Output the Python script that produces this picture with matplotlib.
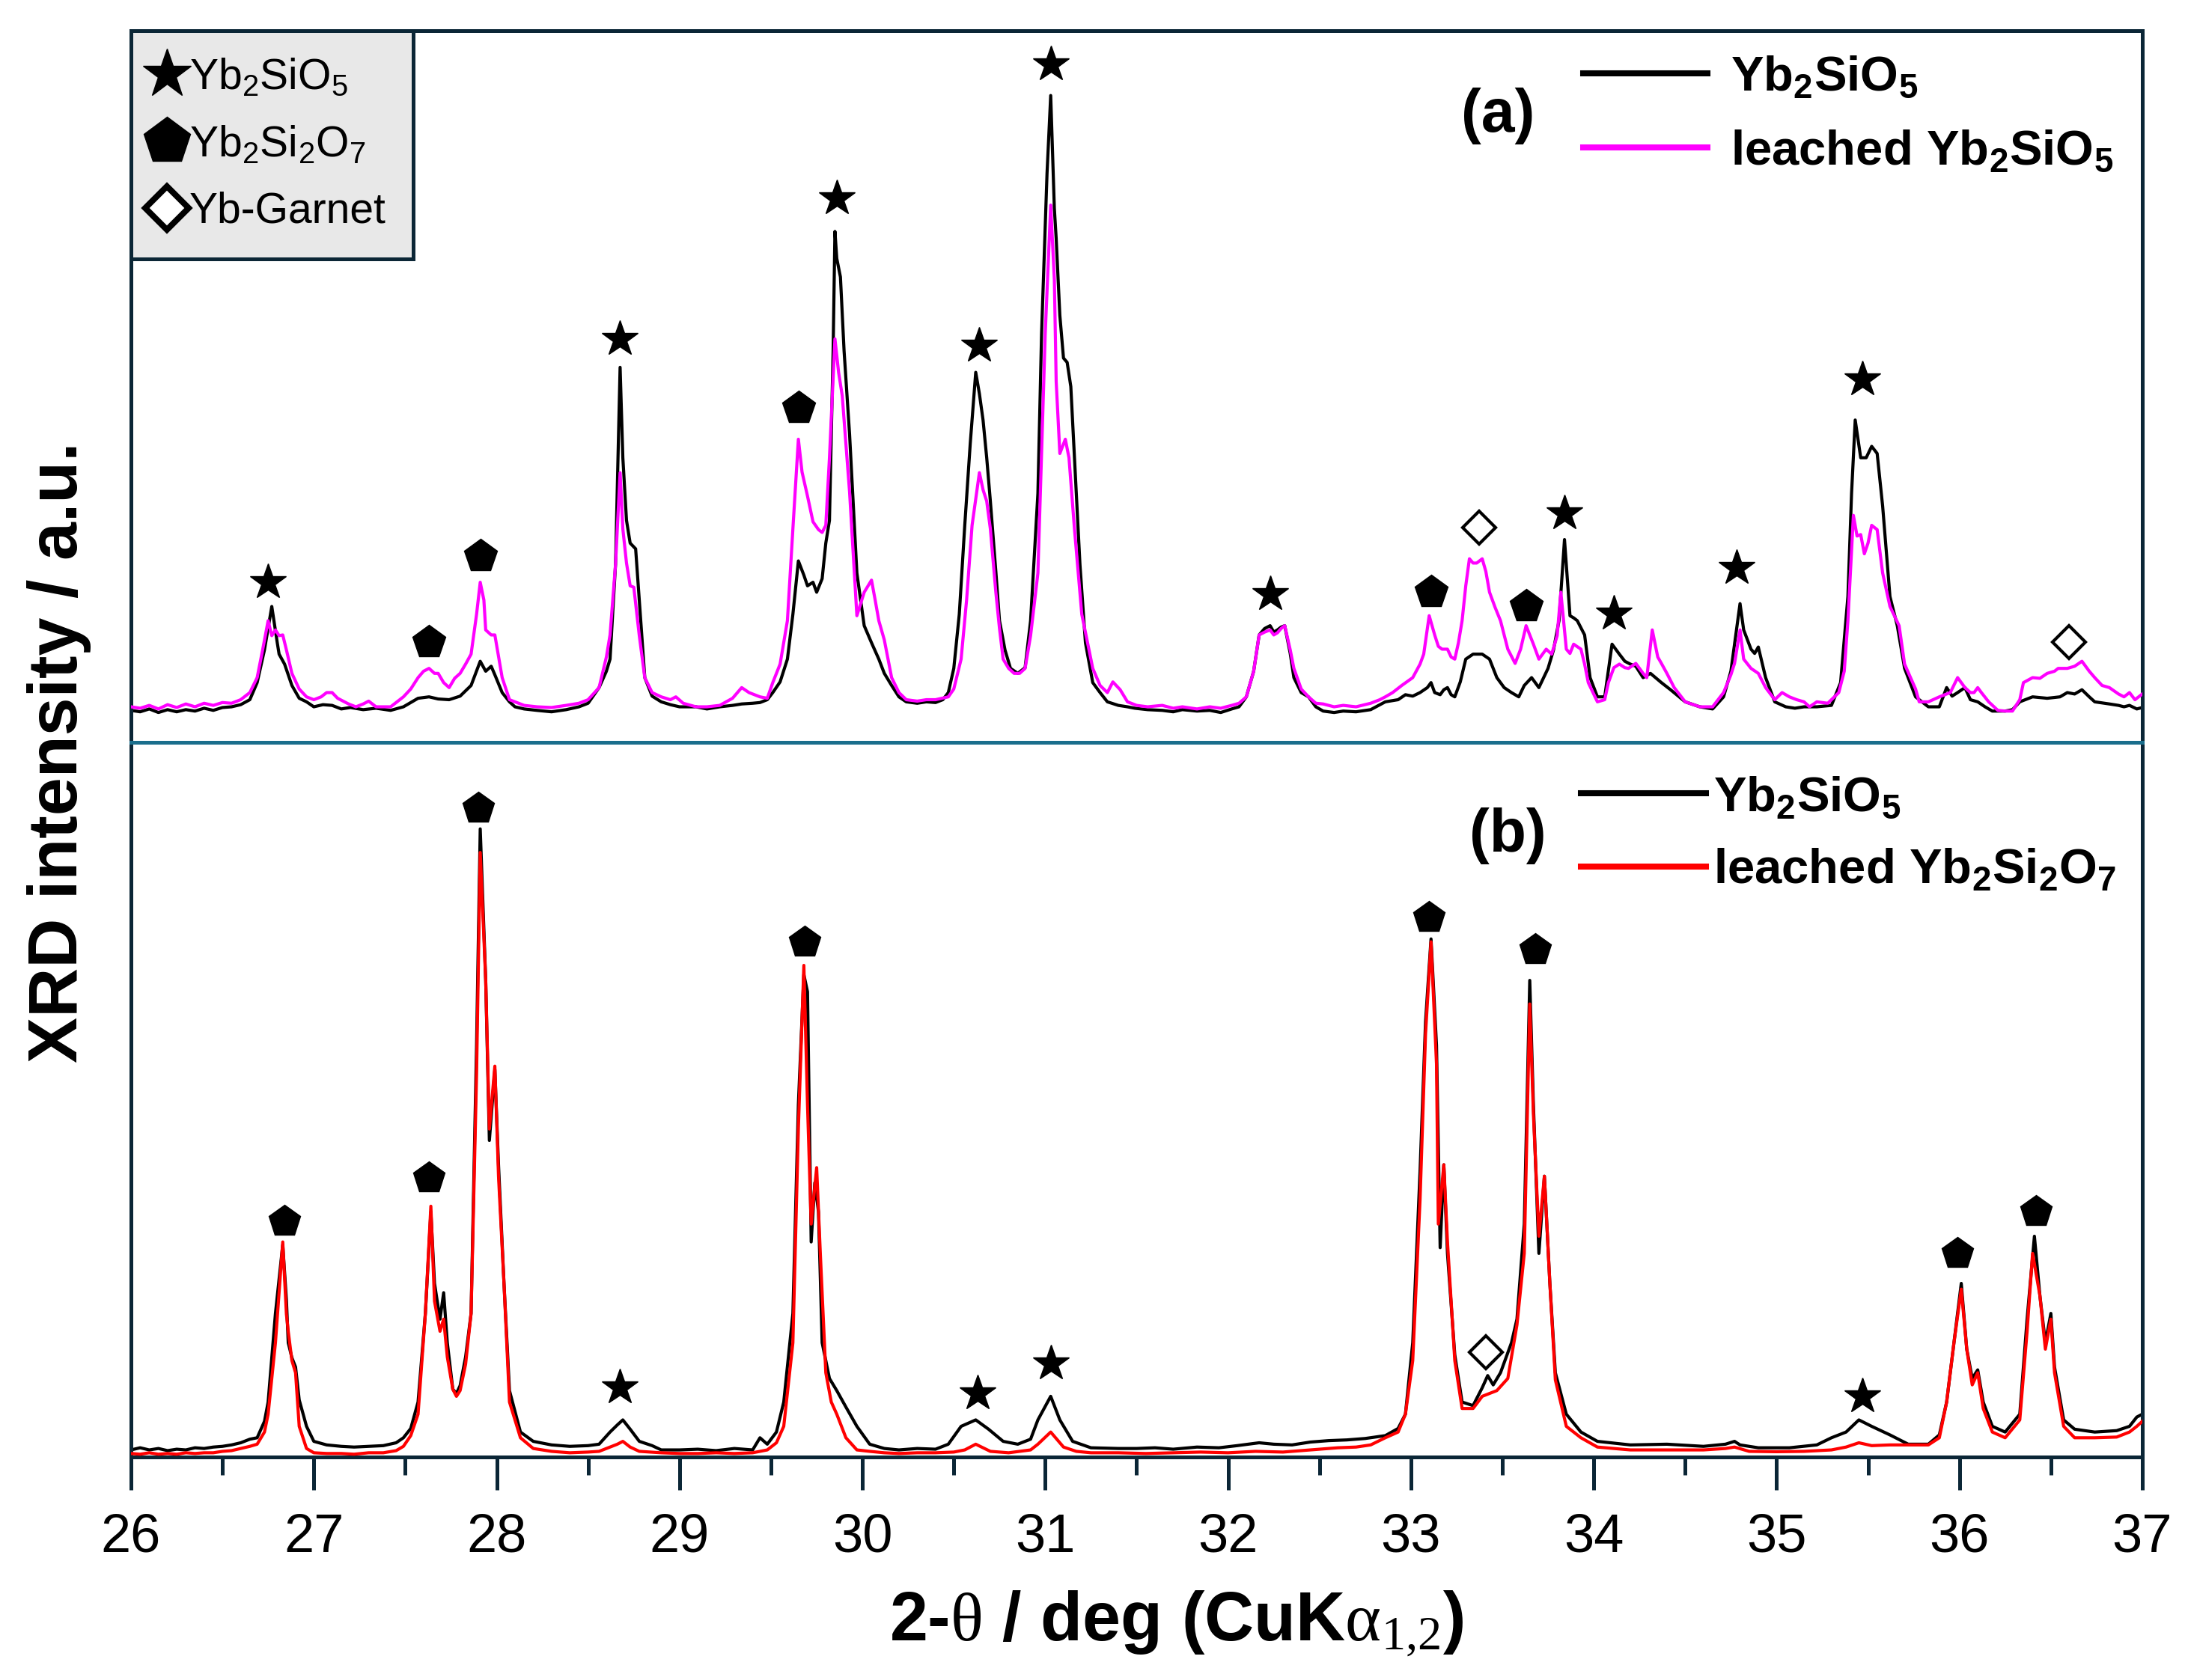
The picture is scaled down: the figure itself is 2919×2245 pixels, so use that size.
import matplotlib
matplotlib.use('Agg')
import matplotlib.pyplot as plt
from matplotlib.lines import Line2D
from matplotlib.ticker import MultipleLocator, FixedLocator

# ---------------- data (2-theta in deg, intensity in a.u.) ----------------
# Panel (a): pristine Yb2SiO5 (black)
A_PRISTINE = [(26.00,4.5),(26.05,4.3),(26.10,4.7),(26.15,4.2),(26.20,4.6),(26.25,4.3),(26.30,4.6),(26.35,4.4),(26.40,4.8),(26.45,4.5),(26.50,4.9),(26.55,5.0),(26.60,5.3),(26.65,6.0),(26.69,8.4),(26.73,13.0),(26.77,19.1),(26.80,14.0),(26.81,12.4),(26.84,11.0),(26.88,8.0),(26.92,6.2),(26.96,5.7),(27.00,5.0),(27.05,5.3),(27.10,5.2),(27.15,4.7),(27.20,4.9),(27.27,4.6),(27.34,4.8),(27.42,4.5),(27.49,5.0),(27.53,5.6),(27.57,6.2),(27.63,6.4),(27.68,6.1),(27.74,6.0),(27.80,6.5),(27.86,8.0),(27.91,11.4),(27.94,10.0),(27.97,10.7),(27.99,9.5),(28.03,7.0),(28.07,5.7),(28.10,5.0),(28.15,4.7),(28.22,4.5),(28.30,4.3),(28.38,4.6),(28.45,5.0),(28.50,5.5),(28.56,7.7),(28.60,10.0),(28.62,11.7),(28.65,25.0),(28.675,52.7),(28.69,40.0),(28.71,31.2),(28.73,28.0),(28.76,27.2),(28.78,20.0),(28.81,9.1),(28.85,6.5),(28.90,5.7),(28.95,5.3),(29.00,5.0),(29.09,5.0),(29.15,4.7),(29.22,5.0),(29.29,5.2),(29.34,5.4),(29.40,5.5),(29.44,5.6),(29.48,6.0),(29.51,7.0),(29.55,8.5),(29.59,11.7),(29.62,18.0),(29.65,25.5),(29.68,23.5),(29.70,22.0),(29.73,22.5),(29.75,21.1),(29.78,23.0),(29.80,28.0),(29.82,31.2),(29.84,55.0),(29.85,71.8),(29.86,68.0),(29.88,65.4),(29.90,55.0),(29.93,43.3),(29.97,23.8),(30.01,16.4),(30.05,14.0),(30.09,11.7),(30.12,9.7),(30.16,8.0),(30.20,6.4),(30.24,5.7),(30.30,5.5),(30.35,5.7),(30.40,5.6),(30.44,6.0),(30.47,7.0),(30.50,10.4),(30.53,18.0),(30.56,30.5),(30.59,42.0),(30.62,52.0),(30.64,49.0),(30.66,45.3),(30.68,40.0),(30.70,33.9),(30.73,24.0),(30.75,17.1),(30.78,13.0),(30.81,10.4),(30.85,9.7),(30.89,10.5),(30.92,17.1),(30.96,35.0),(30.98,57.4),(31.01,80.0),(31.03,90.9),(31.05,75.0),(31.06,70.8),(31.08,60.0),(31.10,54.0),(31.12,53.4),(31.14,50.0),(31.16,40.0),(31.19,25.0),(31.22,14.0),(31.26,8.4),(31.30,7.0),(31.34,5.7),(31.40,5.2),(31.45,5.0),(31.49,4.8),(31.56,4.6),(31.64,4.5),(31.70,4.3),(31.75,4.6),(31.83,4.4),(31.90,4.5),(31.96,4.2),(32.02,4.7),(32.06,5.0),(32.10,6.4),(32.14,10.0),(32.17,15.1),(32.20,16.0),(32.23,16.4),(32.25,15.5),(32.27,15.8),(32.29,16.2),(32.31,16.4),(32.34,12.5),(32.36,9.1),(32.40,7.0),(32.44,6.4),(32.48,5.0),(32.52,4.4),(32.58,4.2),(32.63,4.4),(32.70,4.3),(32.78,4.6),(32.86,5.7),(32.93,6.0),(32.97,6.7),(33.01,6.5),(33.05,7.0),(33.09,7.7),(33.11,8.4),(33.13,7.0),(33.16,6.7),(33.18,7.4),(33.20,7.7),(33.22,6.7),(33.24,6.4),(33.27,8.5),(33.30,11.7),(33.34,12.4),(33.39,12.4),(33.43,11.7),(33.47,9.1),(33.51,7.7),(33.55,7.0),(33.59,6.4),(33.62,8.0),(33.66,9.1),(33.70,7.7),(33.75,10.4),(33.78,13.0),(33.81,17.1),(33.84,28.5),(33.87,17.8),(33.89,17.5),(33.91,17.1),(33.95,15.1),(33.98,9.1),(34.02,6.4),(34.06,6.4),(34.10,13.8),(34.14,12.4),(34.17,11.4),(34.20,11.0),(34.23,10.7),(34.27,9.1),(34.31,9.7),(34.37,8.4),(34.42,7.4),(34.50,5.7),(34.58,5.0),(34.65,4.7),(34.71,6.4),(34.75,10.0),(34.77,13.8),(34.80,19.5),(34.82,15.8),(34.86,13.1),(34.88,12.5),(34.90,13.4),(34.94,9.1),(34.99,5.7),(35.05,5.0),(35.10,4.8),(35.15,5.0),(35.22,5.0),(35.30,5.2),(35.35,8.4),(35.39,20.5),(35.41,35.0),(35.43,45.3),(35.46,40.0),(35.49,40.0),(35.52,41.6),(35.55,40.6),(35.58,33.2),(35.62,20.5),(35.66,16.4),(35.70,10.4),(35.76,6.4),(35.83,5.0),(35.89,5.0),(35.93,7.7),(35.96,6.5),(35.99,7.0),(36.03,7.7),(36.06,6.0),(36.10,5.7),(36.14,5.0),(36.18,4.4),(36.25,4.4),(36.29,4.6),(36.33,5.7),(36.40,6.4),(36.48,6.2),(36.55,6.4),(36.59,7.0),(36.63,6.8),(36.67,7.4),(36.71,6.4),(36.74,5.7),(36.82,5.4),(36.87,5.2),(36.90,5.0),(36.93,5.2),(36.97,4.7),(37.00,4.9)]

# Panel (a): leached Yb2SiO5 (magenta)
A_LEACHED = [(26.00,5.0),(26.05,4.8),(26.10,5.2),(26.15,4.7),(26.20,5.3),(26.25,4.9),(26.30,5.4),(26.35,5.0),(26.40,5.5),(26.45,5.2),(26.50,5.6),(26.55,5.5),(26.60,6.0),(26.65,7.0),(26.69,9.1),(26.72,13.0),(26.75,17.1),(26.77,15.0),(26.79,15.8),(26.81,15.0),(26.83,15.1),(26.85,13.0),(26.88,9.7),(26.92,7.5),(26.96,6.4),(27.00,6.0),(27.04,6.4),(27.07,7.0),(27.10,7.0),(27.13,6.2),(27.19,5.4),(27.23,5.0),(27.27,5.4),(27.30,5.8),(27.34,5.0),(27.42,5.0),(27.49,6.4),(27.53,7.5),(27.57,9.1),(27.60,10.0),(27.63,10.4),(27.66,9.7),(27.68,9.7),(27.71,8.4),(27.74,7.7),(27.77,9.0),(27.80,9.7),(27.83,11.0),(27.86,12.4),(27.89,18.0),(27.91,22.5),(27.93,20.0),(27.94,15.8),(27.97,15.1),(27.99,15.1),(28.03,9.1),(28.07,6.0),(28.10,5.7),(28.15,5.2),(28.22,5.0),(28.30,4.9),(28.38,5.2),(28.45,5.5),(28.50,6.0),(28.56,7.7),(28.60,12.0),(28.62,15.1),(28.65,25.0),(28.675,37.9),(28.69,30.0),(28.71,25.2),(28.73,22.0),(28.75,21.8),(28.78,15.0),(28.81,9.1),(28.85,7.0),(28.90,6.4),(28.95,6.0),(28.98,6.4),(29.02,5.5),(29.09,5.0),(29.15,5.0),(29.22,5.2),(29.29,6.2),(29.34,7.7),(29.38,7.0),(29.44,6.4),(29.48,6.2),(29.51,8.4),(29.55,11.0),(29.59,17.1),(29.62,30.0),(29.65,42.6),(29.67,38.0),(29.70,34.6),(29.73,31.0),(29.76,29.9),(29.78,29.5),(29.80,30.5),(29.82,40.0),(29.85,56.7),(29.87,52.0),(29.89,48.7),(29.91,42.0),(29.93,35.2),(29.97,17.8),(30.01,21.1),(30.05,22.8),(30.07,20.0),(30.09,17.1),(30.12,14.4),(30.16,9.1),(30.20,7.0),(30.24,6.0),(30.30,5.8),(30.35,6.0),(30.40,6.0),(30.47,6.4),(30.50,7.5),(30.54,11.7),(30.57,20.0),(30.60,30.5),(30.64,37.9),(30.66,35.5),(30.68,33.9),(30.70,30.0),(30.73,21.1),(30.75,16.0),(30.77,11.7),(30.80,10.4),(30.83,9.7),(30.86,9.7),(30.89,10.4),(30.92,15.0),(30.96,23.8),(31.00,57.4),(31.03,75.5),(31.05,65.0),(31.06,50.7),(31.08,40.6),(31.11,42.6),(31.13,40.0),(31.16,30.0),(31.20,18.0),(31.26,10.4),(31.30,8.0),(31.34,7.0),(31.37,8.5),(31.41,7.4),(31.45,5.7),(31.50,5.2),(31.56,5.0),(31.64,5.2),(31.70,4.8),(31.75,5.0),(31.83,4.7),(31.90,5.0),(31.96,4.8),(32.02,5.2),(32.06,5.5),(32.10,6.4),(32.14,10.0),(32.17,15.1),(32.20,15.5),(32.23,15.8),(32.25,15.1),(32.27,15.4),(32.29,16.0),(32.31,16.4),(32.34,13.0),(32.36,10.4),(32.40,7.5),(32.44,6.4),(32.48,5.5),(32.52,5.4),(32.58,5.0),(32.63,5.2),(32.70,5.0),(32.78,5.5),(32.83,6.0),(32.86,6.4),(32.90,7.0),(32.95,8.0),(33.01,9.1),(33.05,11.0),(33.07,12.4),(33.10,17.8),(33.13,15.1),(33.15,13.5),(33.17,13.1),(33.20,13.1),(33.22,12.0),(33.24,11.7),(33.26,14.0),(33.28,17.1),(33.30,22.0),(33.32,25.8),(33.34,25.2),(33.36,25.2),(33.39,25.8),(33.41,24.0),(33.43,21.1),(33.46,19.0),(33.49,17.1),(33.53,13.1),(33.57,11.1),(33.60,13.1),(33.63,16.4),(33.67,13.8),(33.70,11.7),(33.74,13.1),(33.77,12.4),(33.80,15.0),(33.82,21.1),(33.85,13.1),(33.87,12.5),(33.89,13.8),(33.93,13.1),(33.95,11.0),(33.97,8.4),(34.02,5.7),(34.06,6.0),(34.08,8.4),(34.11,10.5),(34.14,11.0),(34.17,10.5),(34.19,10.4),(34.23,11.1),(34.27,9.7),(34.29,9.1),(34.32,15.8),(34.35,12.0),(34.37,11.1),(34.40,9.7),(34.44,7.7),(34.50,5.7),(34.58,5.0),(34.65,5.0),(34.71,7.0),(34.75,9.5),(34.77,11.1),(34.80,15.8),(34.82,11.7),(34.86,10.4),(34.90,9.7),(34.94,7.7),(34.99,6.0),(35.03,7.0),(35.07,6.4),(35.11,6.0),(35.15,5.7),(35.18,5.0),(35.22,5.7),(35.28,5.5),(35.34,7.0),(35.37,10.0),(35.39,17.1),(35.42,31.9),(35.44,29.0),(35.46,29.2),(35.48,26.5),(35.50,28.0),(35.52,30.5),(35.55,29.9),(35.58,23.8),(35.62,19.1),(35.67,16.4),(35.70,11.0),(35.76,7.5),(35.78,5.7),(35.83,5.7),(35.89,6.4),(35.95,7.0),(35.99,9.1),(36.03,7.7),(36.06,7.0),(36.08,7.0),(36.10,7.7),(36.12,7.0),(36.16,5.7),(36.21,4.5),(36.25,4.4),(36.29,4.4),(36.33,6.0),(36.35,8.4),(36.40,9.1),(36.44,9.0),(36.48,9.7),(36.52,10.0),(36.54,10.4),(36.59,10.4),(36.63,10.7),(36.67,11.4),(36.71,10.0),(36.74,9.1),(36.78,8.0),(36.82,7.7),(36.87,6.8),(36.90,6.4),(36.93,7.0),(36.96,6.0),(37.00,6.8)]

# Panel (b): Yb2SiO5 curve (black)
B_PRISTINE = [(26.00,1.0),(26.05,1.3),(26.10,1.0),(26.15,1.2),(26.20,0.9),(26.25,1.1),(26.30,1.0),(26.35,1.3),(26.40,1.2),(26.45,1.4),(26.50,1.5),(26.55,1.7),(26.60,2.0),(26.65,2.5),(26.69,2.7),(26.73,5.0),(26.75,7.7),(26.79,20.1),(26.83,29.7),(26.85,22.0),(26.86,16.0),(26.88,13.9),(26.90,12.6),(26.92,8.0),(26.96,4.3),(27.00,2.2),(27.07,1.7),(27.15,1.5),(27.22,1.4),(27.30,1.5),(27.38,1.6),(27.45,2.0),(27.49,2.7),(27.53,4.0),(27.57,7.7),(27.61,20.1),(27.64,34.3),(27.66,24.3),(27.69,19.3),(27.71,23.0),(27.73,16.0),(27.76,9.5),(27.78,8.9),(27.80,10.0),(27.83,14.0),(27.86,20.1),(27.89,57.6),(27.91,87.9),(27.94,66.7),(27.96,44.3),(27.99,54.2),(28.01,40.9),(28.04,24.3),(28.07,9.3),(28.13,3.5),(28.20,2.2),(28.30,1.7),(28.40,1.5),(28.50,1.6),(28.56,1.8),(28.62,3.5),(28.66,4.5),(28.69,5.2),(28.73,3.9),(28.78,2.2),(28.85,1.6),(28.90,1.0),(29.00,1.0),(29.10,1.1),(29.20,0.9),(29.30,1.2),(29.40,1.0),(29.44,2.7),(29.48,1.8),(29.53,3.5),(29.57,7.7),(29.62,20.1),(29.65,49.3),(29.68,67.5),(29.70,65.1),(29.72,30.1),(29.74,38.4),(29.76,34.3),(29.78,16.0),(29.82,11.0),(29.86,9.3),(29.91,7.0),(29.97,4.3),(30.04,1.8),(30.12,1.2),(30.20,1.0),(30.30,1.2),(30.40,1.1),(30.47,1.8),(30.54,4.3),(30.62,5.2),(30.69,3.9),(30.77,2.2),(30.85,1.8),(30.92,2.5),(30.96,5.2),(31.03,8.5),(31.08,5.2),(31.15,2.2),(31.25,1.3),(31.40,1.2),(31.50,1.2),(31.60,1.3),(31.70,1.1),(31.83,1.4),(31.95,1.3),(32.05,1.6),(32.17,2.0),(32.25,1.8),(32.35,1.7),(32.45,2.1),(32.55,2.3),(32.65,2.4),(32.75,2.6),(32.86,3.0),(32.93,4.0),(32.97,6.0),(33.01,16.0),(33.05,40.0),(33.08,60.9),(33.11,72.5),(33.14,57.6),(33.16,29.3),(33.18,40.9),(33.20,28.5),(33.24,14.3),(33.28,7.7),(33.34,7.2),(33.39,9.7),(33.42,11.4),(33.45,10.1),(33.49,11.8),(33.55,16.0),(33.58,19.3),(33.62,32.6),(33.65,66.7),(33.67,49.3),(33.70,28.5),(33.73,39.3),(33.76,24.3),(33.79,11.8),(33.85,6.0),(33.93,3.5),(34.02,2.2),(34.20,1.7),(34.40,1.8),(34.60,1.5),(34.72,1.8),(34.77,2.2),(34.80,1.7),(34.90,1.3),(35.07,1.3),(35.22,1.7),(35.30,2.7),(35.38,3.5),(35.45,5.2),(35.52,4.3),(35.62,3.1),(35.72,1.8),(35.83,1.8),(35.89,3.1),(35.93,7.7),(35.97,16.0),(36.01,24.3),(36.04,15.1),(36.07,11.0),(36.10,12.2),(36.13,7.7),(36.18,4.3),(36.25,3.5),(36.33,6.0),(36.37,19.3),(36.41,30.9),(36.44,22.6),(36.47,16.0),(36.50,20.1),(36.52,12.6),(36.57,5.2),(36.63,3.9),(36.74,3.5),(36.86,3.7),(36.93,4.3),(36.97,5.6),(37.00,6.0)]

# Panel (b): leached Yb2Si2O7 (red)
B_LEACHED = [(26.00,0.5),(26.05,0.4),(26.10,0.6),(26.15,0.4),(26.20,0.5),(26.25,0.4),(26.30,0.6),(26.35,0.5),(26.40,0.6),(26.45,0.6),(26.50,0.8),(26.55,0.9),(26.60,1.2),(26.65,1.5),(26.69,1.8),(26.73,3.5),(26.75,6.0),(26.79,16.0),(26.83,30.1),(26.85,20.0),(26.86,17.6),(26.88,13.5),(26.90,11.8),(26.92,4.3),(26.96,1.2),(27.00,0.6),(27.07,0.5),(27.15,0.5),(27.22,0.4),(27.30,0.6),(27.38,0.6),(27.45,0.9),(27.49,1.5),(27.53,3.0),(27.57,6.0),(27.61,20.1),(27.64,35.1),(27.66,21.8),(27.69,17.6),(27.71,19.3),(27.73,14.0),(27.76,9.5),(27.78,8.5),(27.80,9.3),(27.83,13.0),(27.86,20.1),(27.89,53.6),(27.91,84.6),(27.94,66.7),(27.96,45.9),(27.99,54.7),(28.01,39.3),(28.04,24.3),(28.07,7.7),(28.13,2.7),(28.20,1.2),(28.30,0.8),(28.40,0.6),(28.50,0.7),(28.56,0.8),(28.62,1.4),(28.66,1.8),(28.69,2.2),(28.73,1.4),(28.78,0.8),(28.90,0.6),(29.00,0.5),(29.10,0.5),(29.20,0.6),(29.30,0.5),(29.40,0.6),(29.44,0.8),(29.48,1.0),(29.53,2.0),(29.57,4.3),(29.62,16.0),(29.65,46.0),(29.68,68.8),(29.70,49.3),(29.72,32.6),(29.75,40.5),(29.77,28.5),(29.80,11.8),(29.83,7.7),(29.86,6.0),(29.91,2.7),(29.97,1.0),(30.04,0.8),(30.12,0.6),(30.20,0.5),(30.30,0.6),(30.40,0.6),(30.50,0.7),(30.56,1.0),(30.62,1.8),(30.70,0.8),(30.80,0.6),(30.92,1.0),(30.96,1.8),(31.03,3.5),(31.10,1.4),(31.17,0.8),(31.25,0.6),(31.40,0.6),(31.55,0.5),(31.70,0.6),(31.85,0.7),(32.00,0.6),(32.15,0.8),(32.30,0.7),(32.45,1.0),(32.60,1.3),(32.70,1.4),(32.78,1.7),(32.86,2.7),(32.93,3.5),(32.97,6.0),(33.01,13.5),(33.05,36.0),(33.08,59.2),(33.11,72.1),(33.14,55.0),(33.15,32.6),(33.18,40.9),(33.20,30.1),(33.24,13.5),(33.28,6.8),(33.34,6.8),(33.39,8.5),(33.43,8.9),(33.47,9.3),(33.53,11.0),(33.58,18.5),(33.62,28.5),(33.65,63.4),(33.67,48.0),(33.70,30.9),(33.73,39.3),(33.76,24.3),(33.79,10.8),(33.85,4.3),(33.93,2.7),(34.02,1.4),(34.20,1.0),(34.40,1.0),(34.60,1.0),(34.72,1.2),(34.77,1.4),(34.85,0.8),(35.00,0.75),(35.15,0.8),(35.30,1.0),(35.38,1.4),(35.45,2.0),(35.52,1.6),(35.62,1.7),(35.72,1.7),(35.83,1.7),(35.89,2.7),(35.93,7.7),(35.97,16.0),(36.01,23.5),(36.04,15.1),(36.07,10.1),(36.10,11.8),(36.13,6.8),(36.18,3.5),(36.25,2.7),(36.33,5.2),(36.37,17.6),(36.40,28.5),(36.44,22.6),(36.47,15.1),(36.50,19.3),(36.52,11.8),(36.57,4.3),(36.63,2.7),(36.74,2.7),(36.86,2.8),(36.93,3.5),(36.97,4.3),(37.00,5.0)]

# Phase markers (2-theta, height)
A_STARS = [(26.75,22.5),(28.675,56.7),(29.86,76.5),(30.64,55.7),(31.03,95.3),(32.23,20.8),(33.84,32.2),(34.11,18.1),(34.78,24.5),(35.47,51.0)]
A_PENTAGONS = [(27.63,14.1),(27.91,26.2),(29.65,47.0),(33.11,21.1),(33.63,19.1)]
A_DIAMONDS = [(33.375,30.2),(36.60,14.1)]
B_PENTAGONS = [(26.84,33.0),(27.63,39.1),(27.90,90.8),(29.685,72.1),(33.10,75.5),(33.68,71.0),(35.99,28.5),(36.42,34.4)]
B_STARS = [(28.675,9.7),(30.63,8.9),(31.03,13.1),(35.47,8.5)]
B_DIAMONDS = [(33.41,14.7)]

X_TICKS = [26, 27, 28, 29, 30, 31, 32, 33, 34, 35, 36, 37]
LABEL_A = ['Yb$_2$SiO$_5$', 'leached Yb$_2$SiO$_5$']
LABEL_B = ['Yb$_2$SiO$_5$', 'leached Yb$_2$Si$_2$O$_7$']
PHASES = ['Yb$_2$SiO$_5$', 'Yb$_2$Si$_2$O$_7$', 'Yb-Garnet']

# ---------------- style ----------------
plt.rcParams['font.family'] = ['Liberation Sans', 'DejaVu Sans']
plt.rcParams['mathtext.fontset'] = 'custom'
plt.rcParams['mathtext.rm'] = 'Liberation Serif'
plt.rcParams['mathtext.it'] = 'Liberation Serif:italic'
plt.rcParams['mathtext.bf'] = 'Liberation Serif:bold'
plt.rcParams['mathtext.default'] = 'regular'

SPINE = '#0b2636'
DIVIDER = '#1a6e8c'
MAGENTA = '#ff00ff'
RED = '#ff0000'
CURVE_LW = 3.0

fig = plt.figure(figsize=(29.19, 22.45), dpi=100)
axB = fig.add_axes([0.05995, 0.1327, 0.9205, 0.4254])
axA = fig.add_axes([0.05995, 0.5581, 0.9205, 0.4236])


def unzip(pairs):
    return [p[0] for p in pairs], [p[1] for p in pairs]


# ---- panel (a)
x, y = unzip(A_PRISTINE)
axA.plot(x, y, color='black', lw=CURVE_LW, zorder=2)
x, y = unzip(A_LEACHED)
axA.plot(x, y, color=MAGENTA, lw=CURVE_LW, zorder=3)
x, y = unzip(A_STARS)
axA.plot(x, y, ls='none', marker='*', ms=36, color='black', zorder=5)
x, y = unzip(A_PENTAGONS)
axA.plot(x, y, ls='none', marker='p', ms=33, color='black', zorder=5)
x, y = unzip(A_DIAMONDS)
axA.plot(x, y, ls='none', marker='D', ms=22, mfc='white', mec='black', mew=3, zorder=5)

# ---- panel (b)
x, y = unzip(B_PRISTINE)
axB.plot(x, y, color='black', lw=CURVE_LW, zorder=2)
x, y = unzip(B_LEACHED)
axB.plot(x, y, color=RED, lw=CURVE_LW, zorder=3)
x, y = unzip(B_PENTAGONS)
axB.plot(x, y, ls='none', marker='p', ms=32, color='black', zorder=5)
x, y = unzip(B_STARS)
axB.plot(x, y, ls='none', marker='*', ms=36, color='black', zorder=5)
x, y = unzip(B_DIAMONDS)
axB.plot(x, y, ls='none', marker='D', ms=22, mfc='white', mec='black', mew=3, zorder=5)

for ax in (axA, axB):
    ax.set_xlim(26, 37)
    ax.set_ylim(0, 100)
    ax.set_yticks([])
    for s in ax.spines.values():
        s.set_color(SPINE)
        s.set_linewidth(3.6)

axA.set_xticks([])
axA.spines['bottom'].set_color(DIVIDER)
axA.spines['bottom'].set_zorder(10)
axB.spines['top'].set_visible(False)

axB.xaxis.set_major_locator(FixedLocator(X_TICKS))
axB.xaxis.set_minor_locator(MultipleLocator(0.5))
axB.set_xticklabels([str(t) for t in X_TICKS])
axB.tick_params(axis='x', which='major', direction='out', length=31.7, width=3.6,
                color=SPINE, labelsize=52, pad=22)
axB.tick_params(axis='x', which='minor', direction='out', length=17, width=3.6,
                color=SPINE)

# ---- legends
phase_handles = [
    Line2D([], [], ls='none', marker='*', ms=49, color='black'),
    Line2D([], [], ls='none', marker='p', ms=47, color='black'),
    Line2D([], [], ls='none', marker='D', ms=30, mfc='white', mec='black', mew=5.8),
]
leg_phase = axA.legend(phase_handles, PHASES, loc='upper left', bbox_to_anchor=(0, 1),
                       borderaxespad=0, fancybox=False, edgecolor=SPINE,
                       facecolor='#e8e8e8', framealpha=1, fontsize=41,
                       borderpad=0.63, handlelength=0.42, handletextpad=0.32,
                       labelspacing=0.61)
leg_phase.get_frame().set_linewidth(3.6)
axA.add_artist(leg_phase)

axA.legend([Line2D([], [], color='black', lw=5.8), Line2D([], [], color=MAGENTA, lw=5.8)],
           LABEL_A, loc='upper left', bbox_to_anchor=(0.7246, 0.9673),
           bbox_transform=fig.transFigure, frameon=False, borderpad=0,
           borderaxespad=0, handlelength=2.54, handletextpad=0.47, labelspacing=0.59,
           prop={'weight': 'bold', 'size': 47})

axB.legend([Line2D([], [], color='black', lw=5.8), Line2D([], [], color=RED, lw=5.8)],
           LABEL_B, loc='upper left', bbox_to_anchor=(0.7235, 0.5386),
           bbox_transform=fig.transFigure, frameon=False, borderpad=0,
           borderaxespad=0, handlelength=2.56, handletextpad=0.15, labelspacing=0.55,
           prop={'weight': 'bold', 'size': 47})

axA.text(0.6796, 0.880, '(a)', transform=axA.transAxes, ha='center', va='center',
         fontsize=58, fontweight='bold')
axB.text(0.6844, 0.869, '(b)', transform=axB.transAxes, ha='center', va='center',
         fontsize=58, fontweight='bold')

fig.text(0.5386, 0.024, r'2-$\mathrm{\theta}$ / deg (CuK$\mathrm{\alpha_{1{,}2}}$)',
         ha='center', va='baseline', fontsize=66, fontweight='bold')
fig.text(0.027, 0.5523, 'XRD intensity / a.u.', rotation=90, ha='center', va='center',
         fontsize=66, fontweight='bold')

fig.savefig('out.png', dpi=100)
